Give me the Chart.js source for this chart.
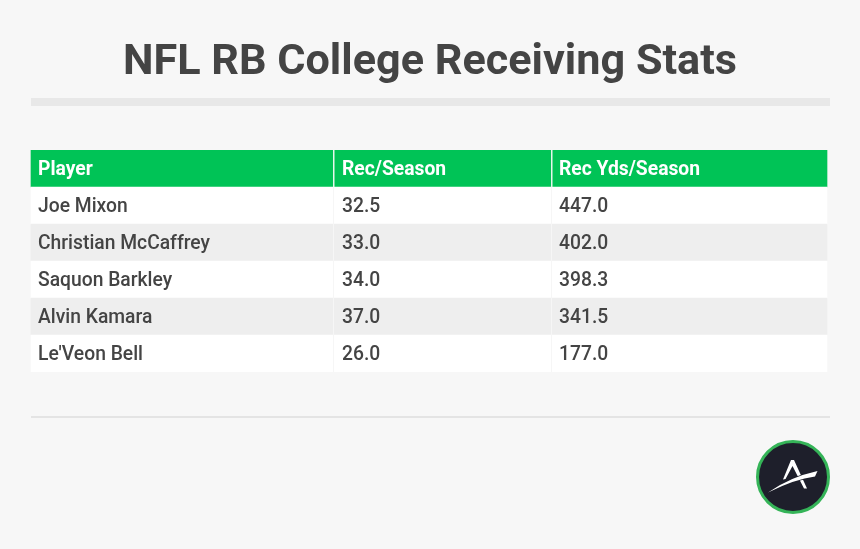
<!DOCTYPE html>
<html>
<head>
<meta charset="utf-8">
<title>NFL RB College Receiving Stats</title>
<script src="https://cdn.jsdelivr.net/npm/chart.js@4"></script>
<style>
  html, body { margin: 0; padding: 0; background: #f7f7f7; }
  canvas { display: block; }
</style>
</head>
<body>
<canvas id="myChart" width="860" height="549"></canvas>
<script>
// table data
const players = ["Joe Mixon", "Christian McCaffrey", "Saquon Barkley", "Alvin Kamara", "Le'Veon Bell"];
const recSeason = [32.5, 33.0, 34.0, 37.0, 26.0];
const recYdsSeason = [447.0, 402.0, 398.3, 341.5, 177.0];
const headers = ["Player", "Rec/Season", "Rec Yds/Season"];
const titleText = "NFL RB College Receiving Stats";

// column widths in x scale units
const colWidths = [302, 218, 276];
const total = colWidths[0] + colWidths[1] + colWidths[2];
const textPad = [7, 9, 8];

const rowLabels = ["header"].concat(players);
const rowColor = ["#00c356", "#ffffff", "#eeeeee", "#ffffff", "#eeeeee", "#ffffff"];

function fila(w) {
  return rowLabels.map(() => w);
}

const tablePlugin = {
  id: "tablePlugin",
  beforeDraw(chart) {
    const c = chart.ctx;
    c.save();
    c.fillStyle = "#e8e8e8";
    c.fillRect(31, 98, 799, 8);
    c.fillStyle = "#e4e4e4";
    c.fillRect(31, 416, 799, 2);
    c.restore();
  },
  afterDatasetsDraw(chart) {
    const c = chart.ctx;
    const x = chart.scales.x;
    const y = chart.scales.y;
    const rowH = y.getPixelForValue(1) - y.getPixelForValue(0);
    let start = 0;
    c.save();
    colWidths.forEach((w, i) => {
      const px = x.getPixelForValue(start);
      if (i > 0) {
        // separadores
        c.fillStyle = "#f6f6f6";
        c.fillRect(px, y.top + rowH, 1, y.bottom - y.top - rowH);
        c.fillStyle = "#e6f7ec";
        c.fillRect(px, y.top, 1.5, rowH);
      }
      c.textBaseline = "middle";
      c.textAlign = "left";
      c.font = "700 19.3px Roboto";
      c.fillStyle = "#ffffff";
      c.fillText(headers[i], px + textPad[i], y.getPixelForValue(0) + 2);
      c.font = "500 19.3px Roboto";
      c.fillStyle = "#444444";
      players.forEach((p, r) => {
        let txt = p;
        if (i == 1) txt = recSeason[r].toFixed(1);
        if (i == 2) txt = recYdsSeason[r].toFixed(1);
        c.fillText(txt, px + textPad[i], y.getPixelForValue(r + 1) + 2);
      });
      start += w;
    });
    c.restore();
  },
  afterDraw(chart) {
    // logo
    const c = chart.ctx;
    c.save();
    c.beginPath();
    c.arc(793, 477, 35.5, 0, Math.PI * 2);
    c.fillStyle = "#1e1f2b";
    c.fill();
    c.lineWidth = 3;
    c.strokeStyle = "#35b458";
    c.stroke();
    c.fillStyle = "#ffffff";
    c.beginPath();
    c.moveTo(791, 460);
    c.lineTo(794, 460);
    c.lineTo(807, 488.5);
    c.lineTo(804, 488.5);
    c.lineTo(792.5, 466);
    c.lineTo(785.5, 479);
    c.lineTo(783, 479.5);
    c.closePath();
    c.fill();
    c.beginPath();
    c.moveTo(768, 492.5);
    c.quadraticCurveTo(790, 477, 817.5, 471);
    c.lineTo(815, 476.5);
    c.quadraticCurveTo(795, 479, 768, 492.5);
    c.closePath();
    c.strokeStyle = "#1e1f2b";
    c.lineWidth = 1.5;
    c.stroke();
    c.fill();
    c.restore();
  }
};

new Chart(document.getElementById("myChart").getContext("2d"), {
  type: "bar",
  data: {
    labels: rowLabels,
    datasets: colWidths.map((w) => ({
      data: fila(w),
      backgroundColor: rowColor,
      borderWidth: 0,
      barPercentage: 1,
      categoryPercentage: 1
    }))
  },
  options: {
    indexAxis: "y",
    responsive: false,
    animation: false,
    layout: { padding: { left: 0, right: 0, top: 0, bottom: 177 } },
    scales: {
      x: { display: false, stacked: true, min: -31, max: total + 33 },
      y: { display: false, stacked: true }
    },
    plugins: {
      legend: { display: false },
      tooltip: { enabled: false },
      title: {
        display: true,
        text: titleText,
        color: "#444444",
        font: { family: "Roboto", size: 43.2, weight: "bold", lineHeight: 1.2 },
        padding: { top: 37, bottom: 61.16 }
      }
    }
  },
  plugins: [tablePlugin]
});
</script>
</body>
</html>
